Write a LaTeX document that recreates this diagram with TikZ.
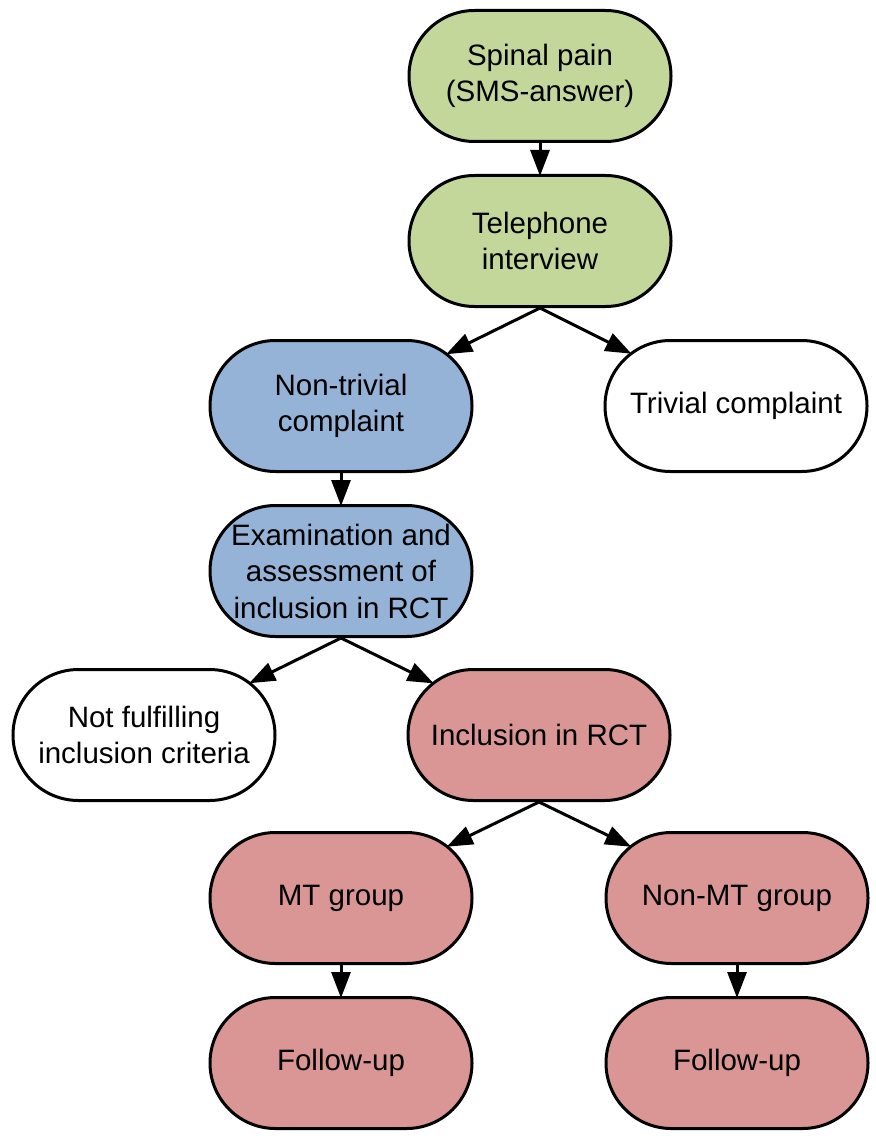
\documentclass[tikz,border=0pt]{standalone}
\usepackage{fontspec}
\setmainfont{Liberation Sans}
\usetikzlibrary{shapes.misc,arrows.meta}
\definecolor{cgreen}{RGB}{196,215,155}
\definecolor{cblue}{RGB}{149,179,215}
\definecolor{cred}{RGB}{217,150,148}
\begin{document}
\begin{tikzpicture}[x=1pt,y=-1pt,
  box/.style={rounded rectangle, draw=black, line width=3pt, minimum width=262pt, minimum height=131pt, inner sep=0pt, align=center, font=\fontsize{29.5}{36.5}\selectfont},
  conn/.style={line width=3pt, -{Triangle[length=26pt,width=19pt]}, shorten >=-2pt}]
\useasboundingbox (0,0) rectangle (875,1142);
\node[box, fill=cgreen] (n1) at (540,76) {Spinal pain\\(SMS-answer)};
\node[box, fill=cgreen] (n2) at (540,241) {Telephone\\interview};
\node[box, fill=cblue] (n3) at (341,406) {Non-trivial\\complaint};
\node[box, fill=white] (n4) at (736,406) {Trivial complaint};
\node[box, fill=cblue] (n5) at (341,571) {Examination and\\assessment of\\inclusion in RCT};
\node[box, fill=white] (n6) at (144,735) {Not fulfilling\\inclusion criteria};
\node[box, fill=cred] (n7) at (539,735) {Inclusion in RCT};
\node[box, fill=cred] (n8) at (341,898) {MT group};
\node[box, fill=cred] (n9) at (737,898) {Non-MT group};
\node[box, fill=cred] (n10) at (341,1063) {Follow-up};
\node[box, fill=cred] (n11) at (737,1063) {Follow-up};
\draw[conn] (n1.south) -- (n2.north);
\draw[conn] (n2.south) -- (n3);
\draw[conn] (n2.south) -- (n4);
\draw[conn] (n3.south) -- (n5.north);
\draw[conn] (n5.south) -- (n6);
\draw[conn] (n5.south) -- (n7);
\draw[conn] (n7.south) -- (n8);
\draw[conn] (n7.south) -- (n9);
\draw[conn] (n8.south) -- (n10.north);
\draw[conn] (n9.south) -- (n11.north);
\end{tikzpicture}
\end{document}
